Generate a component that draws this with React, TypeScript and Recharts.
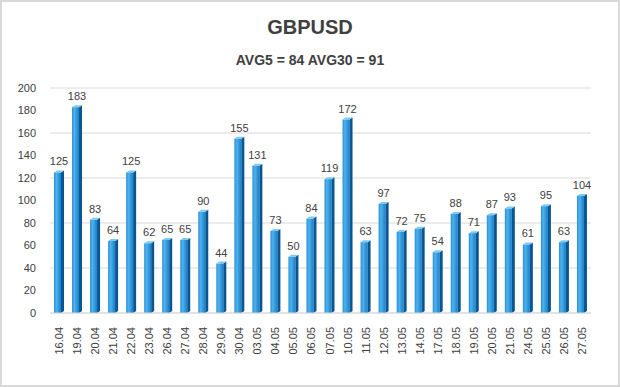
import React from 'react';
import { BarChart, Bar, XAxis, YAxis, CartesianGrid, LabelList } from 'recharts';

const categories = [
  '16.04', '19.04', '20.04', '21.04', '22.04', '23.04', '26.04', '27.04', '28.04', '29.04',
  '30.04', '03.05', '04.05', '05.05', '06.05', '07.05', '10.05', '11.05', '12.05', '13.05',
  '14.05', '17.05', '18.05', '19.05', '20.05', '21.05', '24.05', '25.05', '26.05', '27.05',
];
const values = [
  125, 183, 83, 64, 125, 62, 65, 65, 90, 44,
  155, 131, 73, 50, 84, 119, 172, 63, 97, 72,
  75, 54, 88, 71, 87, 93, 61, 95, 63, 104,
];
const yTicks = [0, 20, 40, 60, 80, 100, 120, 140, 160, 180, 200];
const title = 'GBPUSD';
const subtitle = 'AVG5 = 84 AVG30 = 91';

const data = categories.map((date, i) => ({ date, value: values[i] }));

const FONT = '"Liberation Sans", Arial, sans-serif';
const TEXT = '#404040';

const BarShape = (props: any) => {
  const { x, y, width, height } = props;
  const depth = 3;
  const rise = 2;
  const fw = width - depth;
  return (
    <g>
      <rect x={x} y={y} width={fw} height={height} fill="url(#barFront)" />
      <polygon
        points={`${x + fw},${y} ${x + width},${y - rise} ${x + width},${y + height - rise} ${x + fw},${y + height}`}
        fill="#0b5590"
      />
      <polygon
        points={`${x},${y} ${x + depth},${y - rise} ${x + width},${y - rise} ${x + fw},${y}`}
        fill="#7ccaf3"
      />
    </g>
  );
};

const XTick = (props: any) => {
  const { x, y, payload } = props;
  return (
    <text
      x={x}
      y={y}
      transform={`rotate(-90 ${x} ${y})`}
      textAnchor="end"
      dx={-6}
      dy={4}
      fontSize={11}
      fontFamily={FONT}
      fill={TEXT}
    >
      {payload.value}
    </text>
  );
};

export default function App() {
  return (
    <div
      style={{
        position: 'absolute',
        left: 0,
        top: 0,
        width: 620,
        height: 387,
        background: '#fff',
        boxSizing: 'border-box',
        border: '2px solid #d9d9d9',
        overflow: 'hidden',
      }}
    >
      <div style={{ position: 'absolute', left: -2, top: -2 }}>
        <BarChart
          width={620}
          height={387}
          data={data}
          margin={{ top: 88, right: 29, left: 0, bottom: 0 }}
          barCategoryGap={0}
        >
          <defs>
            <linearGradient id="barFront" x1="0" y1="0" x2="1" y2="0">
              <stop offset="0%" stopColor="#2a8fd8" />
              <stop offset="35%" stopColor="#4fb2ec" />
              <stop offset="100%" stopColor="#1580cc" />
            </linearGradient>
          </defs>
          <text x={310} y={34} textAnchor="middle" fontSize={20} fontWeight="bold" fontFamily={FONT} fill={TEXT}>
            {title}
          </text>
          <text x={310} y={65} textAnchor="middle" fontSize={14} fontWeight="bold" fontFamily={FONT} fill={TEXT}>
            {subtitle}
          </text>
          <CartesianGrid vertical={false} stroke="#d9d9d9" strokeWidth={1} />
          <XAxis
            dataKey="date"
            interval={0}
            height={74}
            tickLine={false}
            axisLine={{ stroke: '#d9d9d9' }}
            tick={<XTick />}
          />
          <YAxis
            domain={[0, 200]}
            ticks={yTicks}
            width={50}
            tickLine={false}
            axisLine={false}
            tickSize={0}
            tickMargin={14}
            tick={{ fontSize: 11, fontFamily: FONT, fill: TEXT }}
          />
          <Bar dataKey="value" barSize={10} shape={<BarShape />} isAnimationActive={false}>
            <LabelList dataKey="value" position="top" offset={7} fontSize={11} fontFamily={FONT} fill={TEXT} />
          </Bar>
        </BarChart>
      </div>
    </div>
  );
}
